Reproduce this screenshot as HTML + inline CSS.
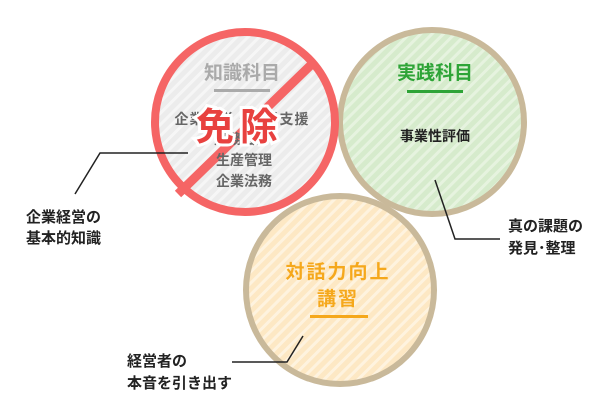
<!DOCTYPE html>
<html><head><meta charset="utf-8"><style>
html,body{margin:0;padding:0;background:#fff;}
svg{display:block;}
text{font-family:"Liberation Sans","Noto Sans CJK JP",sans-serif;font-weight:bold;}
</style></head><body>
<svg width="615" height="414" viewBox="0 0 615 414" xmlns="http://www.w3.org/2000/svg">
<defs>
<pattern id="pg" width="8" height="8" patternUnits="userSpaceOnUse" patternTransform="rotate(-45)">
<rect width="8" height="8" fill="#ececec"/><rect width="8" height="3" fill="#f6f6f6"/></pattern>
<pattern id="pgr" width="8" height="8" patternUnits="userSpaceOnUse" patternTransform="rotate(-45)">
<rect width="8" height="8" fill="#d6ebcc"/><rect width="8" height="3" fill="#e6f3df"/></pattern>
<pattern id="po" width="8" height="8" patternUnits="userSpaceOnUse" patternTransform="rotate(-45)">
<rect width="8" height="8" fill="#fde8c4"/><rect width="8" height="3" fill="#fef3df"/></pattern>
</defs>
<circle cx="432" cy="122" r="92" fill="url(#pgr)" stroke="#c9b99a" stroke-width="6"/>
<circle cx="340" cy="290" r="94" fill="url(#po)" stroke="#c9b99a" stroke-width="6"/>
<circle cx="245" cy="122" r="90" fill="url(#pg)" stroke="#f56565" stroke-width="8"/>
<line x1="314" y1="62" x2="178" y2="194" stroke="#f56565" stroke-width="9"/>

<text x="242" y="79" font-size="19" fill="#aaa" text-anchor="middle">知識科目</text>
<rect x="214" y="89" width="56" height="3" fill="#aaa"/>
<text x="242" y="124" font-size="14" fill="#666" text-anchor="middle" letter-spacing="1">企業経営・事業支援</text>
<text x="242" y="144" font-size="14" fill="#666" text-anchor="middle">財務会計</text>
<text x="244" y="165" font-size="14" fill="#666" text-anchor="middle">生産管理</text>
<text x="244" y="186" font-size="14" fill="#666" text-anchor="middle">企業法務</text>
<text x="240" y="140" font-size="38" fill="#e8413f" text-anchor="middle" stroke="#fff" stroke-width="6" paint-order="stroke" letter-spacing="6">免除</text>

<text x="435" y="79" font-size="19" fill="#2ea437" text-anchor="middle">実践科目</text>
<rect x="407" y="90" width="56" height="3" fill="#2ea437"/>
<text x="435" y="141" font-size="14" fill="#222" text-anchor="middle">事業性評価</text>

<text x="338" y="278" font-size="19" fill="#f5a81c" text-anchor="middle" letter-spacing="2">対話力向上</text>
<text x="338" y="305" font-size="19" fill="#f5a81c" text-anchor="middle" letter-spacing="2">講習</text>
<rect x="310" y="315" width="58" height="3" fill="#f5a81c"/>

<polyline points="188,153 100,153 75,194" fill="none" stroke="#222" stroke-width="1.5"/>
<text x="26" y="222" font-size="15" fill="#222">企業経営の</text>
<text x="26" y="243" font-size="15" fill="#222">基本的知識</text>

<polyline points="435,180 455,239 500,239" fill="none" stroke="#222" stroke-width="1.5"/>
<text x="508" y="231" font-size="15" fill="#222">真の課題の</text>
<text x="508" y="253" font-size="15" fill="#222">発見･整理</text>

<polyline points="232,362 287,362 303,336" fill="none" stroke="#222" stroke-width="1.5"/>
<text x="127" y="366" font-size="15" fill="#222">経営者の</text>
<text x="127" y="388" font-size="15" fill="#222">本音を引き出す</text>
</svg>
</body></html>
